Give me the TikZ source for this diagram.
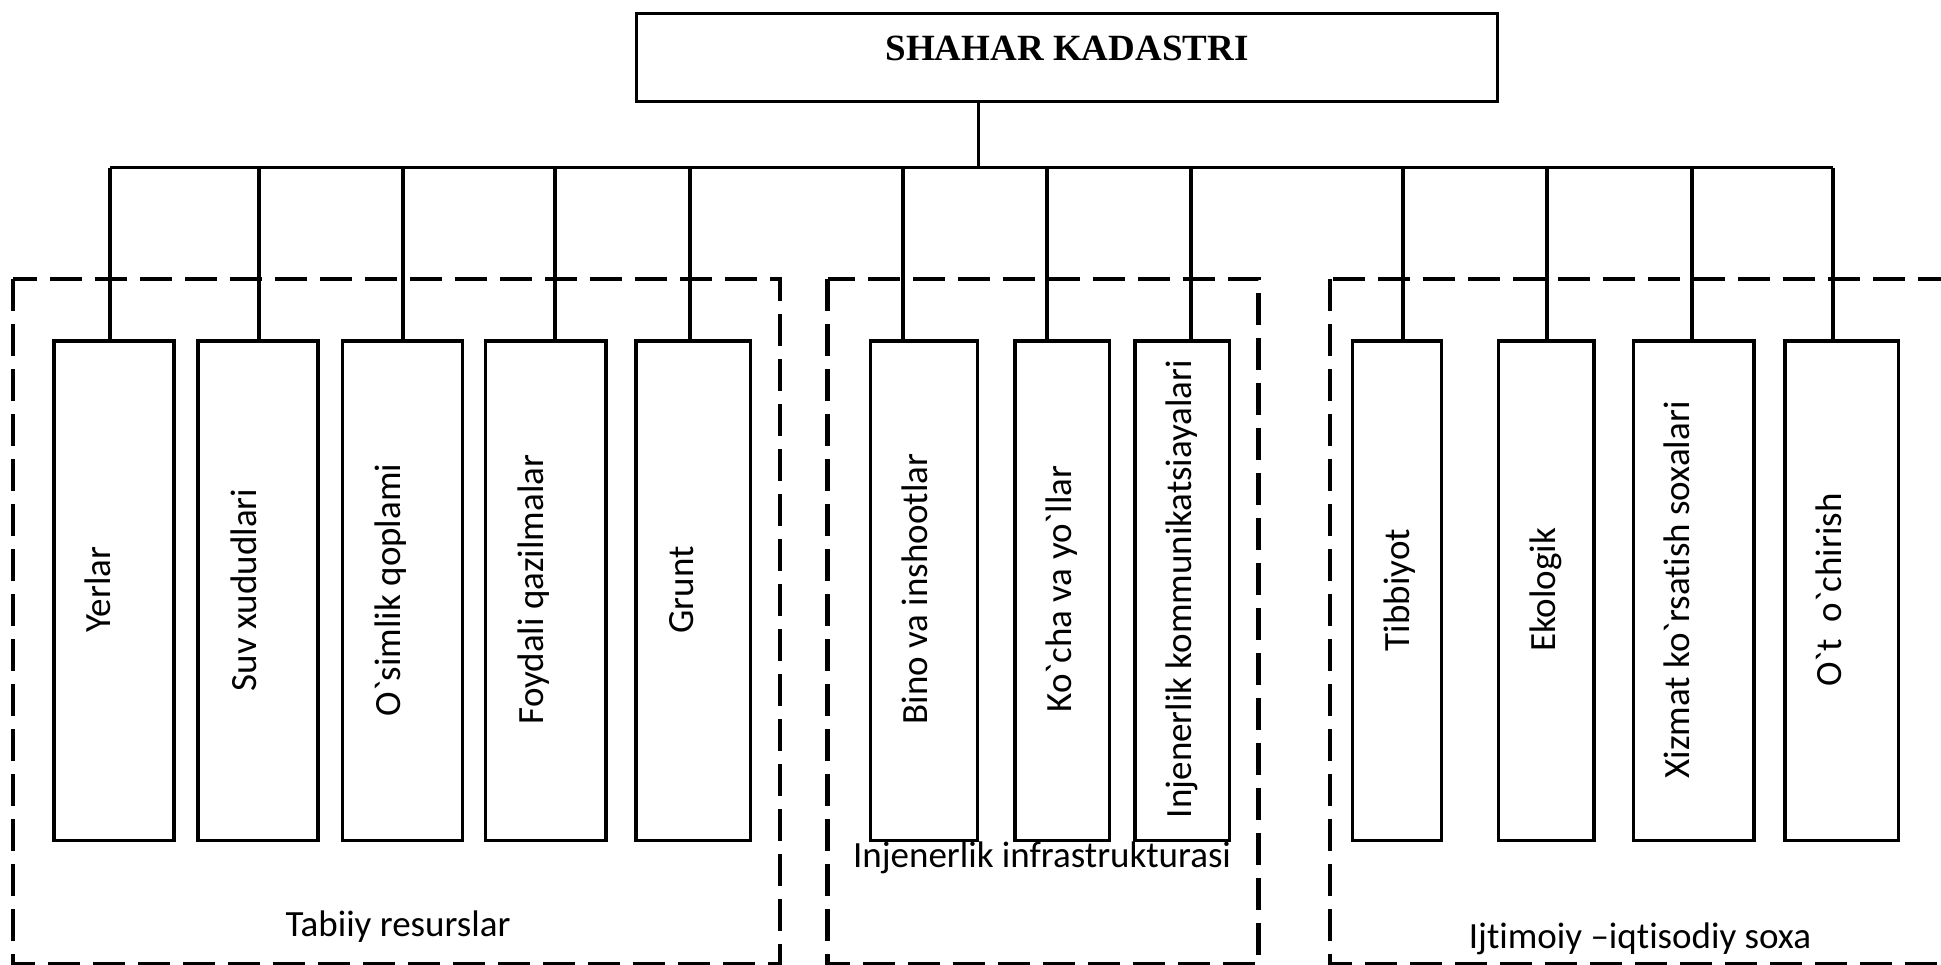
\documentclass[tikz,border=0pt]{standalone}
\usepackage{fontspec}
\setmainfont{Carlito}
\newfontfamily\ttlfam{Liberation Serif}
\font\lblfont="Carlito:-liga;-clig;-dlig" at 37pt
\begin{document}
\begin{tikzpicture}[x=1pt,y=-1pt,
  box/.style={draw, line width=3.4pt, minimum height=499.3pt, inner sep=0pt, outer sep=0pt},
  conn/.style={line width=3.4pt},
  grp/.style={line width=4.3pt, dash pattern=on 32pt off 13pt},
  vlab/.style={rotate=90, anchor=base, inner sep=0pt, font=\lblfont},
  hlab/.style={anchor=base, inner sep=0pt, font=\lblfont}]
\useasboundingbox (0,0) rectangle (1941,964);

% group frames
\draw[grp] (13,279) rectangle (780,964);
\draw[grp] (827.5,279) rectangle (1258.5,964);
\draw[grp] (1330,279) rectangle (1990,964);

% title
\node[draw, line width=3.4pt, minimum width=860.8pt, minimum height=88pt, inner sep=0pt] (top) at (1067,57.3) {};
\node[anchor=base, inner sep=0pt, font=\ttlfam\bfseries\fontsize{37}{40}\selectfont] (toptxt) at (1067,60) {SHAHAR KADASTRI};

% bus
\coordinate (busL) at (110,167.5);
\coordinate (busR) at (1833,167.5);
\coordinate (c0) at (978.7,167.5);
\draw[line width=3.8pt] (busL) -- (busR);
\draw[conn] (c0 |- top.south) -- (c0);

% boxes and drops
\foreach \n/\cx/\w/\dx in {1/114/120/110, 2/258/120/259, 3/402.3/120/403, 4/545.8/120.3/555, 5/693.2/114.3/690,
  6/924.2/107/903, 7/1062.2/94.4/1047, 8/1182.3/94.7/1191,
  9/1397/89.4/1403, 10/1546.2/95.7/1547, 11/1693.7/120.7/1692, 12/1841.7/113.4/1833} {
  \node[box, minimum width=\w pt] (b\n) at (\cx,590.6) {};
  \coordinate (d\n) at (\dx,167.5);
  \draw[conn] (d\n) -- (d\n |- b\n.north);
}

% vertical labels
\node[vlab] (t1) at (110.7,589.5) {Yerlar};
\node[vlab] (t2) at (256,590) {Suv xududlari};
\node[vlab] (t3) at (400,590) {O`simlik qoplami};
\node[vlab] (t4) at (543.3,589.5) {Foydali qazilmalar};
\node[vlab] (t5) at (693.3,590) {Grunt};
\node[vlab] (t6) at (927.7,589) {Bino va inshootlar};
\node[vlab] (t7) at (1071.7,589) {Ko`cha va yo`llar};
\node[vlab] (t8) at (1191,589) {Injenerlik kommunikatsiayalari};
\node[vlab] (t9) at (1409.3,590) {Tibbiyot};
\node[vlab] (t10) at (1555,590) {Ekologik};
\node[vlab] (t11) at (1689.3,590) {Xizmat ko`rsatish soxalari};
\node[vlab] (t12) at (1841.7,590) {O`t\ \ o`chirish};

% group labels
\node[hlab] (g1) at (398,936.7) {Tabiiy resurslar};
\node[hlab] (g2) at (1042,867.7) {Injenerlik infrastrukturasi};
\node[hlab] (g3) at (1640,948.3) {Ijtimoiy –iqtisodiy soxa};
\end{tikzpicture}
\end{document}
